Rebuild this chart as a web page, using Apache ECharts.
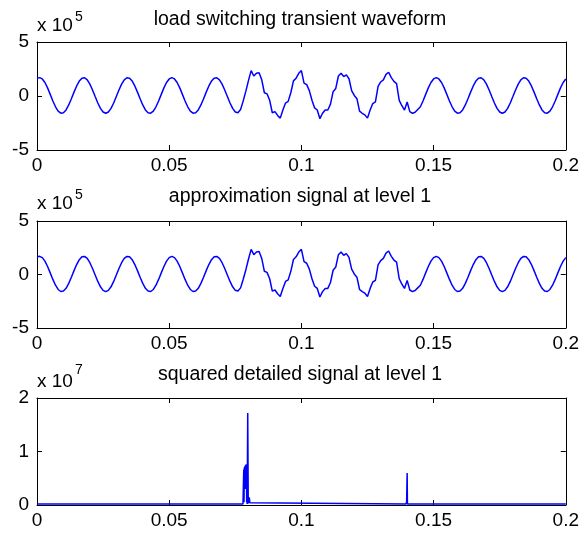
<!DOCTYPE html>
<html>
<head>
<meta charset="utf-8">
<script src="https://cdn.jsdelivr.net/npm/echarts@6/dist/echarts.min.js"></script>
<style>
  html, body { margin: 0; padding: 0; background: #fff; }
  #chart { width: 582px; height: 535px; }
</style>
</head>
<body>
<div id="chart"></div>
<script>
// time step of the waveforms (s), one sample per ms from 0 to 0.2
const sampleStep = 0.001

// load switching transient waveform, in units of 1e5
const waveform = [
  1.65, 1.70, 1.58, 1.25, 0.75, 0.15, -0.46, -1.00, -1.40, -1.59,
  -1.55, -1.29, -0.83, -0.26, 0.36, 0.93, 1.38, 1.65, 1.69, 1.50,
  1.10, 0.56, -0.05, -0.65, -1.15, -1.48, -1.60, -1.48, -1.15, -0.65,
  -0.05, 0.56, 1.10, 1.50, 1.69, 1.65, 1.38, 0.93, 0.36, -0.26,
  -0.83, -1.29, -1.55, -1.59, -1.40, -1.00, -0.46, 0.15, 0.75, 1.25,
  1.58, 1.70, 1.58, 1.25, 0.75, 0.15, -0.46, -1.00, -1.40, -1.59,
  -1.55, -1.29, -0.83, -0.26, 0.36, 0.93, 1.38, 1.65, 1.69, 1.50,
  1.10, 0.56, -0.05, -0.65, -1.15, -1.48, -1.55, -1.25, -0.45, 0.45,
  1.45, 2.35, 1.85, 2.10, 2.15, 1.50, 0.30, 0.20, -0.40, -1.55,
  -1.45, -1.80, -2.05, -1.30, -0.65, -0.50, 0.30, 1.40, 1.65, 2.10,
  2.35, 1.20, 1.05, 0.50, -0.40, -1.10, -1.30, -2.10, -1.60, -1.30,
  -1.30, -0.75, 0.40, 0.70, 1.85, 2.10, 1.80, 1.95, 1.60, 0.50,
  0.05, -0.25, -1.40, -1.60, -1.75, -2.05, -1.30, -0.70, -0.55, 0.90,
  1.30, 1.50, 2.00, 2.20, 1.70, 1.35, 1.15, -0.40, -0.90, -1.30,
  -0.55, -1.45, -1.60, -1.50, -1.25, -1.00, -0.46, 0.15, 0.75, 1.25,
  1.58, 1.70, 1.58, 1.25, 0.75, 0.15, -0.46, -1.00, -1.40, -1.59,
  -1.55, -1.29, -0.83, -0.26, 0.36, 0.93, 1.38, 1.65, 1.69, 1.50,
  1.10, 0.56, -0.05, -0.65, -1.15, -1.48, -1.60, -1.48, -1.15, -0.65,
  -0.05, 0.56, 1.10, 1.50, 1.69, 1.65, 1.38, 0.93, 0.36, -0.26,
  -0.83, -1.29, -1.55, -1.59, -1.40, -1.00, -0.46, 0.15, 0.75, 1.25,
  1.58
]

// approximation at level 1 - same as the waveform at this scale
const approxLevel1 = waveform.slice()

// squared detail at level 1, in units of 1e7
const detailTime = [
  0, 0.0029, 0.0030, 0.0031, 0.0779, 0.0781, 0.0782, 0.0783, 0.0784, 0.0785,
  0.0786, 0.0787, 0.0788, 0.0789, 0.0790, 0.0791, 0.0792, 0.0793, 0.0794, 0.0795,
  0.0797, 0.0799, 0.0800, 0.0802, 0.0803, 0.0805, 0.0807, 0.1396, 0.1398, 0.1399,
  0.1400, 0.1401, 0.1629, 0.1630, 0.1631, 0.2
]
const detailSq = [
  0.02, 0.02, 0.045, 0.02, 0.02, 0.02, 0.66, 0.05, 0.70, 0.35,
  0.72, 0.30, 0.74, 0.32, 0.75, 0.40, 0.76, 0.05, 0.20, 0.02,
  1.72, 0.03, 0.15, 0.06, 0.14, 0.04, 0.02, 0.02, 0.06, 0.03,
  0.60, 0.02, 0.02, 0.04, 0.02, 0.02
]

const titles = ['load switching transient waveform', 'approximation signal at level 1', 'squared detailed signal at level 1']
const exponents = ['5', '5', '7']
const xTicks = { min: 0, max: 0.2, interval: 0.05 }
const yTicks = [
  { min: -5, max: 5, interval: 5 },
  { min: -5, max: 5, interval: 5 },
  { min: 0, max: 2, interval: 1 }
]

const FONT = '"Liberation Sans", Arial, sans-serif'
const BLUE = '#0000ff'

// plot boxes, matlab subplot style
const boxes = [
  { top: 42, height: 108 },
  { top: 221, height: 107 },
  { top: 398, height: 107 }
]
const titleTop = [10, 187, 365]
const expTop = [16, 194, 372]
const supTop = [10, 188, 363]

const chart = echarts.init(document.getElementById('chart'))

const grid = boxes.map(b => ({ left: 37, right: 14, top: b.top, height: b.height }))

// every side of the box is an axis with ticks pointing inwards
const frame = () => ({ show: true, onZero: false, lineStyle: { color: '#000', width: 1 } })
const ticks = () => ({ show: true, inside: true, length: 5, lineStyle: { color: '#000', width: 1 } })
const label = (extra) => ({ color: '#000', fontSize: 19, fontFamily: FONT, ...extra })

const xAxis = []
const yAxis = []
boxes.forEach((b, i) => {
  xAxis.push({
    type: 'value', gridIndex: i, position: 'bottom', ...xTicks,
    axisLine: frame(), axisTick: ticks(), splitLine: { show: false },
    axisLabel: label({ margin: 6, formatter: v => String(+v.toFixed(2)) })
  })
  xAxis.push({
    type: 'value', gridIndex: i, position: 'top', ...xTicks,
    axisLine: frame(), axisTick: ticks(), splitLine: { show: false }, axisLabel: { show: false }
  })
  yAxis.push({
    type: 'value', gridIndex: i, position: 'left', ...yTicks[i],
    axisLine: frame(), axisTick: ticks(), splitLine: { show: false },
    axisLabel: label({ margin: 8 })
  })
  yAxis.push({
    type: 'value', gridIndex: i, position: 'right', ...yTicks[i],
    axisLine: frame(), axisTick: ticks(), splitLine: { show: false }, axisLabel: { show: false }
  })
})

const title = []
titles.forEach((t, i) => {
  title.push({ text: t, left: 300, top: titleTop[i], textAlign: 'center', padding: 0,
    textStyle: { fontSize: 19.5, fontWeight: 'normal', fontFamily: FONT, color: '#000' } })
  title.push({ text: 'x 10', left: 37, top: expTop[i], padding: 0,
    textStyle: { fontSize: 19, fontWeight: 'normal', fontFamily: FONT, color: '#000' } })
  title.push({ text: exponents[i], left: 75, top: supTop[i], padding: 0,
    textStyle: { fontSize: 14, fontWeight: 'normal', fontFamily: FONT, color: '#000' } })
})

const line = (data, i) => ({
  type: 'line', xAxisIndex: i * 2, yAxisIndex: i * 2, data,
  showSymbol: false, lineStyle: { color: BLUE, width: 1.5 }, itemStyle: { color: BLUE }
})

chart.setOption({
  animation: false,
  backgroundColor: '#fff',
  title,
  grid,
  xAxis,
  yAxis,
  series: [
    line(waveform.map((v, k) => [k * sampleStep, v]), 0),
    line(approxLevel1.map((v, k) => [k * sampleStep, v]), 1),
    line(detailTime.map((t, k) => [t, detailSq[k]]), 2)
  ]
})
</script>
</body>
</html>
